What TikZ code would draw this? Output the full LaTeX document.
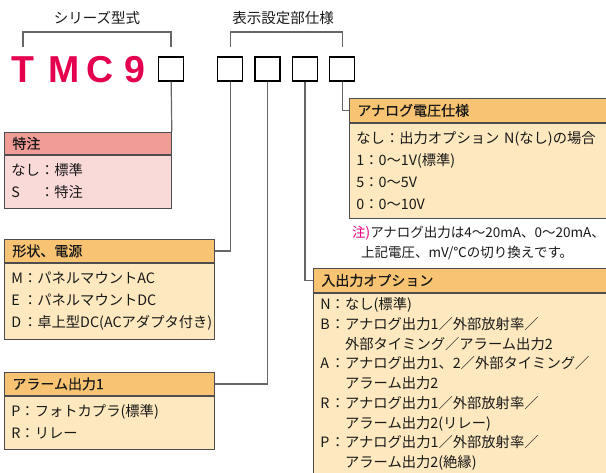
\documentclass[tikz,border=0pt]{standalone}
\usepackage{fontspec}
\setmainfont{Noto Sans CJK JP}
\newfontfamily\hdfont{Noto Sans CJK JP}[FakeBold=0.4]
\newfontfamily\logofont{Liberation Sans}
\usetikzlibrary{positioning}

\definecolor{logored}{HTML}{E4004F}
\definecolor{notered}{HTML}{E4007F}
\definecolor{wirecol}{HTML}{666666}
\definecolor{edgecol}{HTML}{4D4D4D}
\definecolor{orhead}{HTML}{F8C473}
\definecolor{orbody}{HTML}{FEE8C0}
\definecolor{pkhead}{HTML}{F29C98}
\definecolor{pkbody}{HTML}{FADAD9}

\begin{document}
\begin{tikzpicture}[x=1pt, y=-1pt,
        every node/.style={text=black!90},
        title/.style={font=\fontsize{14.5}{16}\selectfont, inner sep=0pt},
        logo/.style={font=\logofont\bfseries\fontsize{37.5}{40}\selectfont, text=logored, inner sep=0pt},
        digit/.style={draw=black, line width=1.3pt, minimum width=25pt, minimum height=24pt, inner sep=0pt},
        hdr/.style={draw=edgecol, line width=0.8pt, fill=orhead, minimum height=23pt, inner xsep=8pt, inner ysep=0pt,
                    align=left, font=\hdfont\fontsize{14}{16}\selectfont, anchor=north west},
        body/.style={draw=edgecol, line width=0.8pt, fill=orbody, inner xsep=7pt, inner ysep=0pt,
                     align=left, font=\fontsize{14.3}{22}\selectfont},
        note/.style={font=\fontsize{13.5}{20}\selectfont, align=left, inner sep=0pt},
        wire/.style={draw=wirecol, line width=1.2pt}
    ]
        \useasboundingbox (0,0) rectangle (606,472);
        \clip (0,0) rectangle (606,472);

        % --- Titulos y corchetes ---
        \node[title] (series) at (97,18) {シリーズ型式};
        \node[title] (display) at (283,18) {表示設定部仕様};

        % --- Modelo y casillas ---
        \node[logo, anchor=base west] (logo) at (11,82) {T\hspace{14pt}M\hspace{7pt}C\hspace{11pt}9};
        \node[digit] (d1) at (171,69) {};
        \node[digit, right=33pt of d1] (d2) {};
        \node[digit, right=11pt of d2] (d3) {};
        \node[digit, right=11pt of d3] (d4) {};
        \node[digit, right=11pt of d4] (d5) {};

        \coordinate (s1) at (23,47);
        \coordinate (s2) at (d1.north |- s1);
        \coordinate (e1) at (d2.north |- s1);
        \coordinate (e2) at (d5.north |- s1);
        \draw[wire] (s1) -- ++(0,-15) -| (s2);
        \draw[wire] (e1) -- ++(0,-15) -| (e2);

        % --- Cajas de la izquierda ---
        \node[hdr, fill=pkhead, text width=151pt, minimum height=22pt] (tokuchuH) at (4,132) {特注};
        \node[body, fill=pkbody, text width=153pt, minimum height=53pt, below=0pt of tokuchuH.south west, anchor=north west] (tokuchu)
            {\begin{tabular}{@{}l@{}l@{}l@{}}
             なし & ： & 標準\\
             S & ： & 特注
             \end{tabular}};

        \node[hdr, text width=194pt] (keijoH) at (4,239) {形状、電源};
        \node[body, text width=196pt, minimum height=76pt, below=0pt of keijoH.south west, anchor=north west] (keijo)
            {\begin{tabular}{@{}l@{}l@{}l@{}}
             M & ： & パネルマウントAC\\
             E & ： & パネルマウントDC\\
             D & ： & 卓上型DC(ACアダプタ付き)
             \end{tabular}};

        \node[hdr, text width=194pt] (alarmH) at (4,372) {アラーム出力1};
        \node[body, text width=196pt, minimum height=53pt, below=0pt of alarmH.south west, anchor=north west] (alarm)
            {\begin{tabular}{@{}l@{}l@{}l@{}}
             P & ： & フォトカプラ(標準)\\
             R & ： & リレー
             \end{tabular}};

        % --- Cajas de la derecha ---
        \node[hdr, text width=265pt, minimum height=24pt] (analogH) at (349,98) {アナログ電圧仕様};
        \node[body, text width=267pt, minimum height=95pt, below=0pt of analogH.south west, anchor=north west] (analog)
            {なし：出力オプション N(なし)の場合\\
             1：0～1V(標準)\\
             5：0～5V\\
             0：0～10V};

        \node[note, anchor=north west] (note) at (352,226)
            {\textcolor{notered}{注)}アナログ出力は4～20mA、0～20mA、\\
             \hspace{9pt}上記電圧、mV/℃の切り換えです。};

        \node[hdr, text width=285pt, minimum height=24pt] (ioH) at (313,268) {入出力オプション};
        \node[body, text width=287pt, minimum height=183pt, font=\fontsize{14.3}{19.7}\selectfont,
              below=0pt of ioH.south west, anchor=north west] (io)
            {\begin{tabular}{@{}l@{}l@{}l@{}}
             N & ： & なし(標準)\\
             B & ： & アナログ出力1／外部放射率／\\
               &    & 外部タイミング／アラーム出力2\\
             A & ： & アナログ出力1、2／外部タイミング／\\
               &    & アラーム出力2\\
             R & ： & アナログ出力1／外部放射率／\\
               &    & アラーム出力2(リレー)\\
             P & ： & アナログ出力1／外部放射率／\\
               &    & アラーム出力2(絶縁)
             \end{tabular}};

        % --- Conexiones ---
        \draw[wire] (d1) -- (tokuchuH.north east);
        \draw[wire] (d2) |- (keijoH);
        \draw[wire] (d3) |- (alarmH);
        \draw[wire] (d4) |- (ioH);
        \draw[wire] (d5) |- (analogH);
    \end{tikzpicture}
\end{document}
